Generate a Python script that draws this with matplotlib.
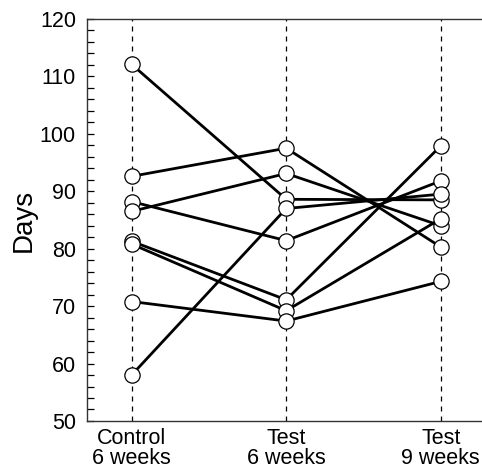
import matplotlib
matplotlib.use("Agg")
import matplotlib.pyplot as plt
from matplotlib.ticker import MultipleLocator

plt.rcParams['font.family'] = ['Liberation Sans', 'DejaVu Sans']

groups = ["Control\n6 weeks", "Test\n6 weeks", "Test\n9 weeks"]
control_6w = [112.1, 92.6, 88.2, 86.5, 81.3, 80.8, 70.8, 58.0]
test_6w = [88.6, 97.5, 81.4, 93.1, 71.1, 69.2, 67.4, 87.0]
test_9w = [88.5, 80.3, 91.8, 84.0, 97.9, 85.2, 74.3, 89.5]

fig = plt.figure(figsize=(4.82, 4.71), dpi=100)
ax = fig.add_axes([0.1805, 0.1062, 0.8195, 0.8535])

xs = list(range(len(groups)))
for x in xs:
    ax.axvline(x, color='black', lw=0.9, ls=(0, (4, 4)), zorder=1)

for a, b, c in zip(control_6w, test_6w, test_9w):
    ax.plot(xs, [a, b, c], color='black', lw=2.0, marker='o', ms=11,
            mfc='white', mec='black', mew=0.9, zorder=3)

ax.set_xlim(-0.289, 2.267)
ax.set_ylim(50, 120)
ax.yaxis.set_major_locator(MultipleLocator(10))
ax.yaxis.set_minor_locator(MultipleLocator(2))
ax.tick_params(axis='y', which='both', direction='in', length=5, width=0.9,
               labelsize=15.5, pad=8)
ax.set_xticks(xs)
ax.set_xticklabels(groups, fontsize=15.5, linespacing=0.95)
ax.tick_params(axis='x', length=0, pad=5)
ax.set_ylabel("Days", fontsize=20, labelpad=2)
ax.spines['right'].set_visible(False)
for s in ['left', 'top', 'bottom']:
    ax.spines[s].set_linewidth(1.0)
    ax.spines[s].set_color('#333333')

fig.savefig("out.png", dpi=100)
